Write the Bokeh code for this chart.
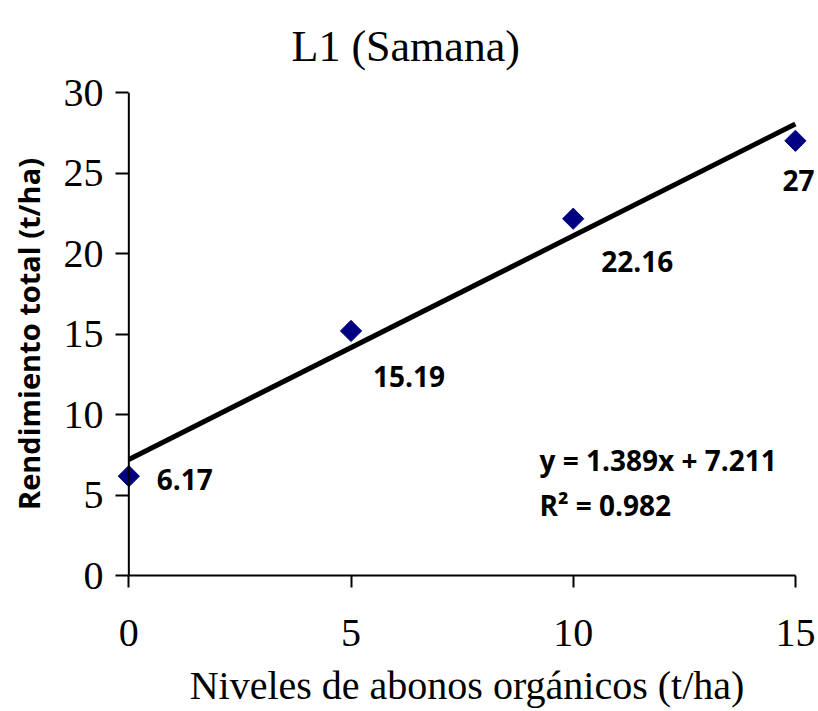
from bokeh.plotting import figure
from bokeh.models import Range1d, Label, LabelSet, ColumnDataSource, FixedTicker, Span
from bokeh.core.properties import value
from bokeh.embed import file_html
from bokeh.resources import INLINE

# ---- data ----
niveles = [0, 5, 10, 15]
rendimiento = [6.17, 15.19, 22.16, 27.0]
etiquetas = ["6.17", "15.19", "22.16", "27"]
pendiente = 1.389
intercepto = 7.211
r2 = 0.982
x_ticks = [0, 5, 10, 15]
y_ticks = [0, 5, 10, 15, 20, 25, 30]

# label pixel offsets (style); LabelSet: positive y = up
lab_dx = [28, 22, 28, -13]
lab_dy = [-3, -46, -43, -40]

SERIF = "Liberation Serif"
SANS = "Open Sans"

p = figure(width=818, height=711,
           x_range=Range1d(-0.3, 15.52), y_range=Range1d(0, 30),
           min_border_left=115, min_border_right=0,
           min_border_top=92, min_border_bottom=136,
           output_backend="svg", toolbar_location=None)
p.outline_line_color = None
p.grid.visible = False
p.background_fill_color = "white"
p.border_fill_color = "white"

p.title.text = "L1 (Samana)"
p.title.align = "left"
p.title.offset = 176
p.title.vertical_align = "top"
p.title.text_font = SERIF
p.title.text_font_size = "44px"
p.title.text_font_style = "normal"
p.title.text_color = "black"
p.title.standoff = 40

# x axis
xa = p.xaxis[0]
xa.ticker = FixedTicker(ticks=x_ticks)
xa.bounds = (0, 15)
xa.axis_line_color = "black"
xa.axis_line_width = 2
xa.major_tick_line_color = "black"
xa.major_tick_line_width = 2
xa.major_tick_out = 12
xa.major_tick_in = 0
xa.minor_tick_line_color = None
xa.major_label_text_font = SERIF
xa.major_label_text_font_size = "40px"
xa.major_label_text_color = "black"
xa.major_label_standoff = 32
xa.axis_label = "Niveles de abonos orgánicos (t/ha)"
xa.axis_label_text_font = SERIF
xa.axis_label_text_font_size = "40px"
xa.axis_label_text_font_style = "normal"
xa.axis_label_text_color = "black"
xa.axis_label_standoff = 14

# y axis: labels at frame edge, ticks drawn inward up to x = 0
ya = p.yaxis[0]
ya.ticker = FixedTicker(ticks=y_ticks)
ya.axis_line_color = None
ya.major_tick_line_color = "black"
ya.major_tick_line_width = 2
ya.minor_tick_line_color = None
ya.major_tick_out = 0
ya.major_tick_in = 13
ya.major_label_text_font = SERIF
ya.major_label_text_font_size = "40px"
ya.major_label_text_color = "black"
ya.major_label_standoff = 12
ya.axis_label = "Rendimiento total (t/ha)"
ya.axis_label_text_font = SANS
ya.axis_label_text_font_size = "29px"
ya.axis_label_text_font_style = "bold"
ya.axis_label_text_color = "black"
ya.axis_label_standoff = 13

# y axis line at x = 0
p.add_layout(Span(location=0, dimension="height", line_color="black", line_width=2))

# trend line
tx = [niveles[0], niveles[-1]]
ty = [pendiente * v + intercepto for v in tx]
p.line(tx, ty, line_color="black", line_width=5)

src = ColumnDataSource(dict(x=niveles, y=rendimiento, t=etiquetas, dx=lab_dx, dy=lab_dy))
p.scatter("x", "y", source=src, marker="square", angle=0.785398, size=15,
          fill_color="#000080", line_color="#000080")
labels = LabelSet(x="x", y="y", text="t", x_offset="dx", y_offset="dy", source=src,
                  text_font=value(SANS), text_font_size="28px", text_font_style="bold",
                  text_color="black", text_align="left", text_baseline="middle")
p.add_layout(labels)

eq = Label(x=9.24, y=7.2, text=f"y = {pendiente}x + {intercepto}",
           text_font=SANS, text_font_size="28px", text_font_style="bold",
           text_color="black", text_baseline="middle", text_align="left")
rr = Label(x=9.24, y=4.35, text=f"R² = {r2}",
           text_font=SANS, text_font_size="28px", text_font_style="bold",
           text_color="black", text_baseline="middle", text_align="left")
p.add_layout(eq)
p.add_layout(rr)

open("out.html", "w").write(file_html(p, INLINE))
